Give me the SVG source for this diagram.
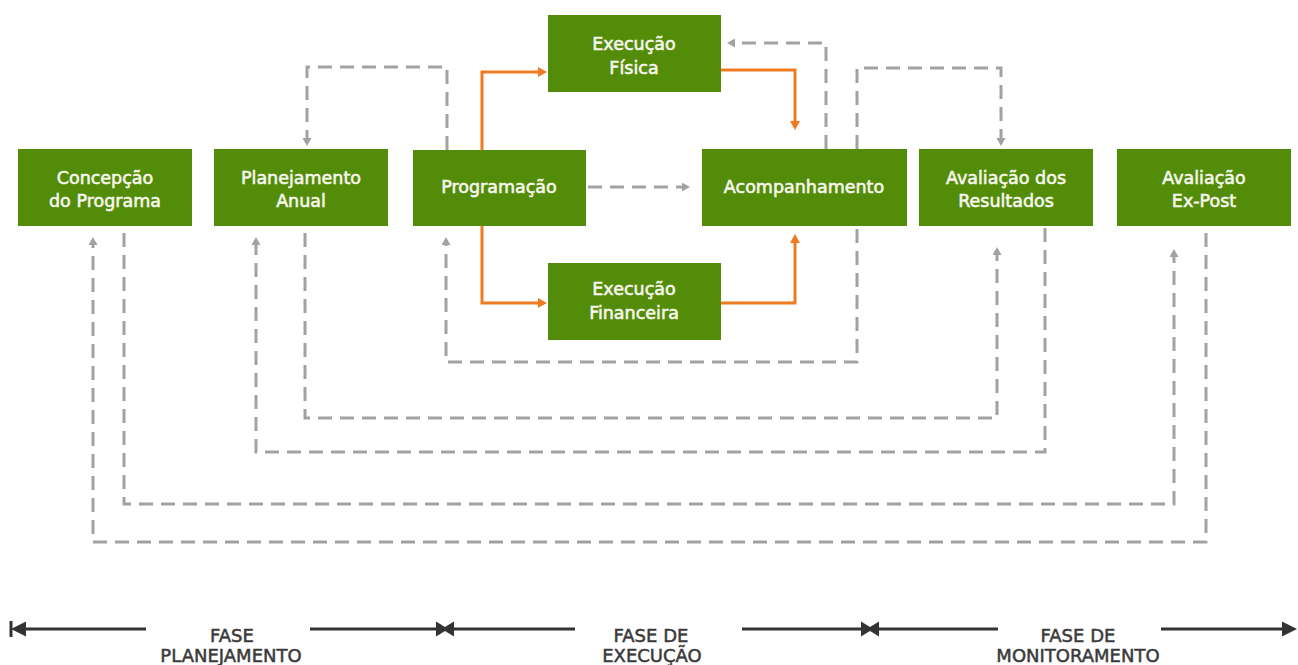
<svg xmlns="http://www.w3.org/2000/svg" width="1298" height="665" viewBox="0 0 1298 665">
<style>
.box{fill:#528c08;}
.bt{fill:#f6f6ec;stroke:#f6f6ec;stroke-width:0.6;font-family:"DejaVu Sans",sans-serif;font-size:17.5px;text-anchor:middle;}
.dash{fill:none;stroke:#a2a2a2;stroke-width:3;stroke-dasharray:14 8;marker-end:url(#ga);}
.or{fill:none;stroke:#f07a20;stroke-width:3;marker-end:url(#oa);}
.tl{fill:none;stroke:#333333;stroke-width:3;}
.ph{fill:#3a3a3a;stroke:#3a3a3a;stroke-width:0.5;font-family:"DejaVu Sans",sans-serif;font-size:18px;text-anchor:middle;}
</style>
<defs>
<marker id="ga" markerUnits="userSpaceOnUse" markerWidth="10" markerHeight="10" refX="0" refY="4.5" orient="auto" viewBox="0 0 10 10">
<path d="M0,0 L8,4.5 L0,9 z" fill="#a2a2a2"/>
</marker>
<marker id="oa" markerUnits="userSpaceOnUse" markerWidth="11" markerHeight="11" refX="0" refY="5" orient="auto" viewBox="0 0 11 11">
<path d="M0,0 L9,5 L0,10 z" fill="#f07a20"/>
</marker>
</defs>

<g id="connectors">
<path class="dash" d="M447,150 V67 H307 V138"/>
<path class="dash" d="M588,187 H682"/>
<path class="dash" d="M826,149 V43 H735"/>
<path class="dash" d="M857,149 V68 H1001 V138"/>
<path class="dash" d="M857,229 V362 H446 V245"/>
<path class="dash" d="M305,233 V418 H997 V255"/>
<path class="dash" d="M1045,228 V452 H256 V245"/>
<path class="dash" d="M124,233 V504 H1174 V257"/>
<path class="dash" d="M1206,233 V542 H93 V245"/>
<path class="or" d="M482,150 V72 H538"/>
<path class="or" d="M721,70 H795 V121"/>
<path class="or" d="M482,226 V303 H538"/>
<path class="or" d="M721,303 H795 V243"/>
</g>

<g id="n-concepcao"><rect class="box" x="18" y="149" width="174" height="77"/><text class="bt" x="105" y="184">Concepção</text><text class="bt" x="105" y="207">do Programa</text></g>
<g id="n-planejamento"><rect class="box" x="214" y="149" width="174" height="77"/><text class="bt" x="301" y="184">Planejamento</text><text class="bt" x="301" y="207">Anual</text></g>
<g id="n-programacao"><rect class="box" x="413" y="150" width="173" height="76"/><text class="bt" x="499" y="193">Programação</text></g>
<g id="n-exec-fisica"><rect class="box" x="548" y="15" width="173" height="77"/><text class="bt" x="634" y="50">Execução</text><text class="bt" x="634" y="74">Física</text></g>
<g id="n-exec-financeira"><rect class="box" x="548" y="263" width="173" height="77"/><text class="bt" x="634" y="295">Execução</text><text class="bt" x="634" y="319">Financeira</text></g>
<g id="n-acompanhamento"><rect class="box" x="702" y="149" width="205" height="77"/><text class="bt" x="804" y="193">Acompanhamento</text></g>
<g id="n-avaliacao-resultados"><rect class="box" x="919" y="149" width="174" height="77"/><text class="bt" x="1006" y="184">Avaliação dos</text><text class="bt" x="1006" y="207">Resultados</text></g>
<g id="n-avaliacao-expost"><rect class="box" x="1117" y="149" width="174" height="77"/><text class="bt" x="1204" y="184">Avaliação</text><text class="bt" x="1204" y="207">Ex-Post</text></g>

<g id="timeline">
<path class="tl" d="M146,629 H22"/>
<path d="M11,621 V637" stroke="#333333" stroke-width="3"/>
<path d="M11,629 L26,621.5 L26,636.5 z" fill="#333333"/>
<path class="tl" d="M310,629 H575"/>
<path d="M436,621.5 L445,627 L454,621.5 L454,636.5 L445,631 L436,636.5 z" fill="#333333"/>
<path class="tl" d="M742,629 H998"/>
<path d="M861,621.5 L870,627 L879,621.5 L879,636.5 L870,631 L861,636.5 z" fill="#333333"/>
<path class="tl" d="M1161,629 H1285"/>
<path d="M1297,629 L1282,621.5 L1282,636.5 z" fill="#333333"/>
<text class="ph" x="232" y="642">FASE</text>
<text class="ph" x="231" y="662">PLANEJAMENTO</text>
<text class="ph" x="651" y="642">FASE DE</text>
<text class="ph" x="652" y="662">EXECUÇÃO</text>
<text class="ph" x="1078" y="642">FASE DE</text>
<text class="ph" x="1078" y="662">MONITORAMENTO</text>
</g>
</svg>
